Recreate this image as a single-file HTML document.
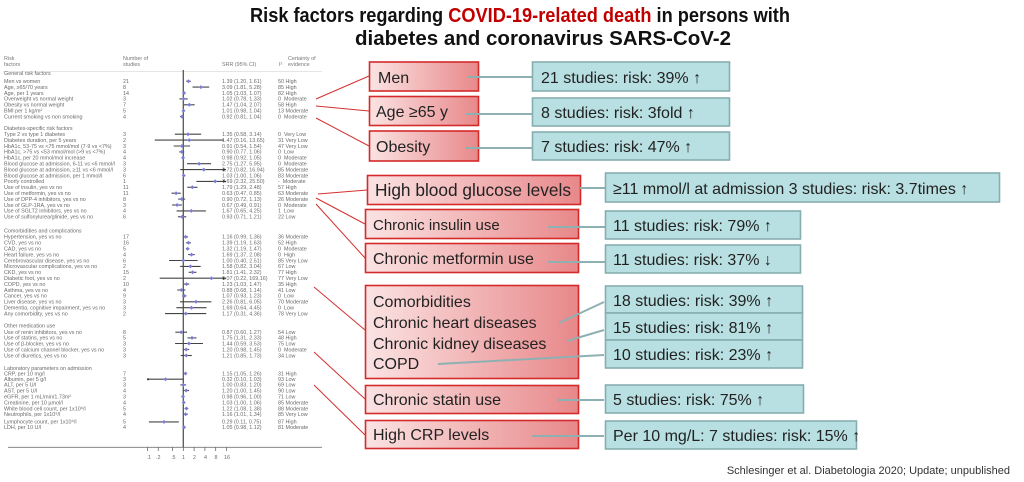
<!DOCTYPE html>
<html><head><meta charset="utf-8"><style>
html,body{margin:0;padding:0;background:#fff;}
svg{display:block;font-family:"Liberation Sans",sans-serif;}
.f{font-size:5.4px;fill:#6a6a6a;}
.h{font-size:5.4px;fill:#777;}
.rb{fill:url(#rg);stroke:#d42a2a;stroke-width:1.6;}
.tb{fill:#b8dfe1;stroke:#86aeb1;stroke-width:1.6;}
.rt{font-size:16px;fill:#222;}
.tt{font-size:16px;fill:#222;}
.gl{stroke:#8fb0b2;stroke-width:2;}
.rl{stroke:#d43030;stroke-width:1;}
</style></head><body>
<svg id="s" width="1024" height="482" viewBox="0 0 1024 482" xmlns="http://www.w3.org/2000/svg">
<defs><linearGradient id="rg" x1="0" x2="1" y1="0" y2="0"><stop offset="0" stop-color="#fbe3e3"/><stop offset="1" stop-color="#e8888a"/></linearGradient></defs>
<text x="250" y="22" font-size="20" font-weight="bold" fill="#111" textLength="540" lengthAdjust="spacingAndGlyphs">Risk factors regarding <tspan fill="#c00000">COVID-19-related death</tspan> in persons with</text>
<text x="355" y="45" font-size="20" font-weight="bold" fill="#111" textLength="376" lengthAdjust="spacingAndGlyphs">diabetes and coronavirus SARS-CoV-2</text>

<text class="h" x="4" y="60">Risk</text><text class="h" x="4" y="66">factors</text>
<text class="h" x="123" y="60">Number of</text><text class="h" x="123" y="66">studies</text>
<text class="h" x="222" y="66">SRR (95% CI)</text><text class="h" x="279" y="66">I²</text>
<text class="h" x="288" y="60">Certainty of</text><text class="h" x="288" y="66">evidence</text>
<line x1="3" y1="71.5" x2="322" y2="71.5" stroke="#ccc" stroke-width="0.6"/>
<line x1="8" y1="447.3" x2="322" y2="447.3" stroke="#777" stroke-width="0.8"/>
<line x1="183.3" y1="70" x2="183.3" y2="447.3" stroke="#555" stroke-width="1.3"/>
<g id="fp"></g>
<g class="f" id="tx">
<text x="4" y="75">General risk factors</text>
<text x="4" y="83">Men vs women</text><text x="4" y="88.9">Age, ≥65/70 years</text><text x="4" y="94.8">Age, per 1 years</text><text x="4" y="100.7">Overweight vs normal weight</text><text x="4" y="106.6">Obesity vs normal weight</text><text x="4" y="112.5">BMI per 1 kg/m²</text><text x="4" y="118.4">Current smoking vs non smoking</text>
<text x="4" y="130">Diabetes-specific risk factors</text>
<text x="4" y="136">Type 2 vs type 1 diabetes</text><text x="4" y="141.9">Diabetes duration, per 5 years</text><text x="4" y="147.8">HbA1c, 53-75 vs &lt;75 mmol/mol (7-9 vs &lt;7%)</text><text x="4" y="153.7">HbA1c, &gt;75 vs &lt;53 mmol/mol (&gt;9 vs &lt;7%)</text><text x="4" y="159.6">HbA1c, per 20 mmol/mol increase</text><text x="4" y="165.5">Blood glucose at admission, 6-11 vs &lt;6 mmol/l</text><text x="4" y="171.4">Blood glucose at admission, ≥11 vs &lt;6 mmol/l</text><text x="4" y="177.3">Blood glucose at admission, per 1 mmol/l</text><text x="4" y="183.2">Poorly controlled</text><text x="4" y="189.1">Use of insulin, yes vs no</text><text x="4" y="195">Use of metformin, yes vs no</text><text x="4" y="200.9">Use of DPP-4 inhibitors, yes vs no</text><text x="4" y="206.8">Use of GLP-1RA, yes vs no</text><text x="4" y="212.7">Use of SGLT2 inhibitors, yes vs no</text><text x="4" y="218.6">Use of sulfonylurea/glinide, yes vs no</text>
<text x="4" y="232.7">Comorbidities and complications</text>
<text x="4" y="238.7">Hypertension, yes vs no</text><text x="4" y="244.6">CVD, yes vs no</text><text x="4" y="250.5">CAD, yes vs no</text><text x="4" y="256.4">Heart failure, yes vs no</text><text x="4" y="262.3">Cerebrovascular disease, yes vs no</text><text x="4" y="268.2">Microvascular complications, yes vs no</text><text x="4" y="274.1">CKD, yes vs no</text><text x="4" y="280">Diabetic foot, yes vs no</text><text x="4" y="285.9">COPD, yes vs no</text><text x="4" y="291.8">Asthma, yes vs no</text><text x="4" y="297.7">Cancer, yes vs no</text><text x="4" y="303.6">Liver disease, yes vs no</text><text x="4" y="309.5">Dementia, cognitive impairment, yes vs no</text><text x="4" y="315.4">Any comorbidity, yes vs no</text>
<text x="4" y="327.7">Other medication use</text>
<text x="4" y="334">Use of renin inhibitors, yes vs no</text><text x="4" y="339.7">Use of statins, yes vs no</text><text x="4" y="345.3">Use of β-blocker, yes vs no</text><text x="4" y="351.3">Use of calcium channel blocker, yes vs no</text><text x="4" y="357.3">Use of diuretics, yes vs no</text>
<text x="4" y="370">Laboratory parameters on admission</text>
<text x="4" y="375.3">CRP, per 10 mg/l</text><text x="4" y="381">Albumin, per 5 g/l</text><text x="4" y="386.7">ALT, per 5 U/l</text><text x="4" y="392.3">AST, per 5 U/l</text><text x="4" y="398.3">eGFR, per 1 mL/min/1.73m²</text><text x="4" y="404.3">Creatinine, per 10 µmol/l</text><text x="4" y="410.3">White blood cell count, per 1x10⁹/l</text><text x="4" y="416">Neutrophils, per 1x10⁹/l</text><text x="4" y="423.7">Lymphocyte count, per 1x10⁹/l</text><text x="4" y="429">LDH, per 10 U/l</text>
</g>
<g class="f">
<text x="146.5" y="459">.1</text><text x="156" y="459">.2</text><text x="171" y="459">.5</text><text x="182" y="459">1</text><text x="193" y="459">2</text><text x="204" y="459">4</text><text x="214.5" y="459">8</text><text x="224" y="459">16</text>
</g>

<line class="rl" x1="316" y1="99" x2="369" y2="76"/>
<line class="rl" x1="316" y1="106" x2="369" y2="111"/>
<line class="rl" x1="316" y1="118" x2="369" y2="146"/>
<line class="rl" x1="318" y1="194" x2="367" y2="190"/>
<line class="rl" x1="316" y1="198" x2="365" y2="224"/>
<line class="rl" x1="316" y1="204" x2="365" y2="258"/>
<line class="rl" x1="314" y1="287" x2="365" y2="330"/>
<line class="rl" x1="314" y1="352" x2="365" y2="399"/>
<line class="rl" x1="314" y1="385" x2="365" y2="435"/>

<rect class="rb" x="369.5" y="62" width="109" height="29"/><text class="rt" x="378" y="83">Men</text>
<rect class="rb" x="369.5" y="96.5" width="109" height="29"/><text class="rt" x="376" y="117">Age ≥65 y</text>
<rect class="rb" x="369.5" y="131" width="109" height="30"/><text class="rt" x="376" y="152">Obesity</text>
<rect class="rb" x="367.5" y="175.5" width="213" height="29"/><text class="rt" x="375" y="196" style="font-size:17.3px">High blood glucose levels</text>
<rect class="rb" x="365.5" y="209.5" width="213" height="29"/><text class="rt" x="373" y="230" style="font-size:15px">Chronic insulin use</text>
<rect class="rb" x="365.5" y="243.5" width="213" height="29"/><text class="rt" x="373" y="264">Chronic metformin use</text>
<rect class="rb" x="365.5" y="285.5" width="213" height="93"/>
<text class="rt" x="373" y="307">Comorbidities</text><text class="rt" x="373" y="328">Chronic heart diseases</text><text class="rt" x="373" y="349">Chronic kidney diseases</text><text class="rt" x="373" y="369">COPD</text>
<rect class="rb" x="365.5" y="385.5" width="213" height="28"/><text class="rt" x="373" y="405">Chronic statin use</text>
<rect class="rb" x="365.5" y="420.5" width="213" height="28"/><text class="rt" x="373" y="440">High CRP levels</text>

<line class="gl" x1="468" y1="77" x2="532" y2="77"/>
<line class="gl" x1="466" y1="114" x2="532" y2="114"/>
<line class="gl" x1="465" y1="148" x2="532" y2="148"/>
<line class="gl" x1="580" y1="188" x2="605" y2="188"/>
<line class="gl" x1="548" y1="227" x2="605" y2="227"/>
<line class="gl" x1="548" y1="262" x2="605" y2="262"/>
<line class="gl" x1="559" y1="323" x2="604" y2="302"/>
<line class="gl" x1="567" y1="341" x2="604" y2="330"/>
<line class="gl" x1="438" y1="364" x2="604" y2="355"/>
<line class="gl" x1="557" y1="400" x2="604" y2="400"/>
<line class="gl" x1="532" y1="436" x2="604" y2="436"/>

<rect class="tb" x="532.5" y="62" width="197" height="29"/><text class="tt" x="541" y="83">21 studies: risk: 39% ↑</text>
<rect class="tb" x="532.5" y="98" width="197" height="28"/><text class="tt" x="541" y="118">8 studies: risk: 3fold ↑</text>
<rect class="tb" x="532.5" y="132" width="197" height="28"/><text class="tt" x="541" y="152">7 studies: risk: 47% ↑</text>
<rect class="tb" x="605.5" y="173" width="394" height="29"/><text class="tt" x="613" y="194">≥11 mmol/l at admission 3 studies: risk: 3.7times ↑</text>
<rect class="tb" x="605.5" y="211" width="195" height="28"/><text class="tt" x="613" y="231">11 studies: risk: 79% ↑</text>
<rect class="tb" x="605.5" y="245" width="195" height="28"/><text class="tt" x="613" y="265">11 studies: risk: 37% ↓</text>
<rect class="tb" x="605.5" y="286" width="197" height="27"/><text class="tt" x="613" y="306">18 studies: risk: 39% ↑</text>
<rect class="tb" x="605.5" y="313" width="197" height="27"/><text class="tt" x="613" y="333">15 studies: risk: 81% ↑</text>
<rect class="tb" x="605.5" y="340" width="197" height="28"/><text class="tt" x="613" y="360">10 studies: risk: 23% ↑</text>
<rect class="tb" x="605.5" y="385" width="198" height="28"/><text class="tt" x="613" y="405">5 studies: risk: 75% ↑</text>
<rect class="tb" x="605.5" y="421" width="251" height="28"/><text class="tt" x="613" y="441">Per 10 mg/L: 7 studies: risk: 15% ↑</text>

<text x="1010" y="474" font-size="11" fill="#333" text-anchor="end">Schlesinger et al. Diabetologia 2020; Update; unpublished</text>

<g class="f">
<text x="123" y="83">21</text><text x="123" y="88.9">8</text><text x="123" y="94.8">14</text><text x="123" y="100.7">3</text><text x="123" y="106.6">7</text><text x="123" y="112.5">5</text><text x="123" y="118.4">4</text>
<text x="123" y="136">3</text><text x="123" y="141.9">2</text><text x="123" y="147.8">3</text><text x="123" y="153.7">4</text><text x="123" y="159.6">4</text><text x="123" y="165.5">3</text><text x="123" y="171.4">3</text><text x="123" y="177.3">6</text><text x="123" y="183.2">1</text><text x="123" y="189.1">11</text><text x="123" y="195">11</text><text x="123" y="200.9">8</text><text x="123" y="206.8">3</text><text x="123" y="212.7">4</text><text x="123" y="218.6">6</text>
<text x="123" y="238.7">17</text><text x="123" y="244.6">16</text><text x="123" y="250.5">5</text><text x="123" y="256.4">4</text><text x="123" y="262.3">6</text><text x="123" y="268.2">2</text><text x="123" y="274.1">15</text><text x="123" y="280">2</text><text x="123" y="285.9">10</text><text x="123" y="291.8">4</text><text x="123" y="297.7">9</text><text x="123" y="303.6">3</text><text x="123" y="309.5">3</text><text x="123" y="315.4">2</text>
<text x="123" y="334">8</text><text x="123" y="339.7">5</text><text x="123" y="345.3">3</text><text x="123" y="351.3">3</text><text x="123" y="357.3">3</text>
<text x="123" y="375.3">7</text><text x="123" y="381">3</text><text x="123" y="386.7">3</text><text x="123" y="392.3">4</text><text x="123" y="398.3">3</text><text x="123" y="404.3">4</text><text x="123" y="410.3">5</text><text x="123" y="416">4</text><text x="123" y="423.7">5</text><text x="123" y="429">4</text>

<text x="222" y="83">1.39 (1.20, 1.61)</text><text x="278" y="83">50 High</text>
<text x="222" y="88.9">3.09 (1.81, 5.28)</text><text x="278" y="88.9">85 High</text>
<text x="222" y="94.8">1.05 (1.03, 1.07)</text><text x="278" y="94.8">82 High</text>
<text x="222" y="100.7">1.02 (0.78, 1.33)</text><text x="278" y="100.7">0 &#160;Moderate</text>
<text x="222" y="106.6">1.47 (1.04, 2.07)</text><text x="278" y="106.6">58 High</text>
<text x="222" y="112.5">1.01 (0.98, 1.04)</text><text x="278" y="112.5">13 Moderate</text>
<text x="222" y="118.4">0.92 (0.81, 1.04)</text><text x="278" y="118.4">0 &#160;Moderate</text>
<text x="222" y="136">1.35 (0.58, 3.14)</text><text x="278" y="136">0 &#160;Very Low</text>
<text x="222" y="141.9">1.47 (0.16, 13.65)</text><text x="278" y="141.9">31 Very Low</text>
<text x="222" y="147.8">0.91 (0.54, 1.54)</text><text x="278" y="147.8">47 Very Low</text>
<text x="222" y="153.7">0.90 (0.77, 1.06)</text><text x="278" y="153.7">0 &#160;Low</text>
<text x="222" y="159.6">0.98 (0.92, 1.05)</text><text x="278" y="159.6">0 &#160;Moderate</text>
<text x="222" y="165.5">2.75 (1.27, 5.95)</text><text x="278" y="165.5">0 &#160;Moderate</text>
<text x="222" y="171.4">3.72 (0.82, 16.94)</text><text x="278" y="171.4">85 Moderate</text>
<text x="222" y="177.3">1.03 (1.00, 1.06)</text><text x="278" y="177.3">83 Moderate</text>
<text x="222" y="183.2">7.69 (2.32, 25.50)</text><text x="278" y="183.2">- &#160;Moderate</text>
<text x="222" y="189.1">1.79 (1.29, 2.48)</text><text x="278" y="189.1">57 High</text>
<text x="222" y="195">0.63 (0.47, 0.85)</text><text x="278" y="195">63 Moderate</text>
<text x="222" y="200.9">0.90 (0.72, 1.13)</text><text x="278" y="200.9">26 Moderate</text>
<text x="222" y="206.8">0.67 (0.49, 0.91)</text><text x="278" y="206.8">0 &#160;Moderate</text>
<text x="222" y="212.7">1.67 (0.65, 4.25)</text><text x="278" y="212.7">1 &#160;Low</text>
<text x="222" y="218.6">0.93 (0.71, 1.21)</text><text x="278" y="218.6">22 Low</text>
<text x="222" y="238.7">1.16 (0.99, 1.36)</text><text x="278" y="238.7">36 Moderate</text>
<text x="222" y="244.6">1.39 (1.19, 1.63)</text><text x="278" y="244.6">52 High</text>
<text x="222" y="250.5">1.32 (1.19, 1.47)</text><text x="278" y="250.5">0 &#160;Moderate</text>
<text x="222" y="256.4">1.69 (1.37, 2.08)</text><text x="278" y="256.4">0 &#160;High</text>
<text x="222" y="262.3">1.00 (0.40, 2.51)</text><text x="278" y="262.3">85 Very Low</text>
<text x="222" y="268.2">1.58 (0.82, 3.04)</text><text x="278" y="268.2">67 Low</text>
<text x="222" y="274.1">1.81 (1.41, 2.32)</text><text x="278" y="274.1">77 High</text>
<text x="222" y="280">6.07 (0.22, 169.16)</text><text x="278" y="280">77 Very Low</text>
<text x="222" y="285.9">1.23 (1.03, 1.47)</text><text x="278" y="285.9">35 High</text>
<text x="222" y="291.8">0.88 (0.68, 1.14)</text><text x="278" y="291.8">41 Low</text>
<text x="222" y="297.7">1.07 (0.93, 1.23)</text><text x="278" y="297.7">0 &#160;Low</text>
<text x="222" y="303.6">2.26 (0.81, 6.05)</text><text x="278" y="303.6">70 Moderate</text>
<text x="222" y="309.5">1.69 (0.64, 4.45)</text><text x="278" y="309.5">0 &#160;Low</text>
<text x="222" y="315.4">1.17 (0.31, 4.36)</text><text x="278" y="315.4">78 Very Low</text>
<text x="222" y="334">0.87 (0.60, 1.27)</text><text x="278" y="334">54 Low</text>
<text x="222" y="339.7">1.75 (1.31, 2.33)</text><text x="278" y="339.7">48 High</text>
<text x="222" y="345.3">1.44 (0.59, 3.53)</text><text x="278" y="345.3">75 Low</text>
<text x="222" y="351.3">1.20 (0.98, 1.45)</text><text x="278" y="351.3">0 &#160;Moderate</text>
<text x="222" y="357.3">1.21 (0.85, 1.73)</text><text x="278" y="357.3">34 Low</text>
<text x="222" y="375.3">1.15 (1.05, 1.26)</text><text x="278" y="375.3">31 High</text>
<text x="222" y="381">0.32 (0.10, 1.03)</text><text x="278" y="381">93 Low</text>
<text x="222" y="386.7">1.00 (0.83, 1.20)</text><text x="278" y="386.7">69 Low</text>
<text x="222" y="392.3">1.20 (1.00, 1.45)</text><text x="278" y="392.3">90 Low</text>
<text x="222" y="398.3">0.98 (0.96, 1.00)</text><text x="278" y="398.3">71 Low</text>
<text x="222" y="404.3">1.03 (1.00, 1.06)</text><text x="278" y="404.3">85 Moderate</text>
<text x="222" y="410.3">1.22 (1.08, 1.38)</text><text x="278" y="410.3">88 Moderate</text>
<text x="222" y="416">1.16 (1.01, 1.34)</text><text x="278" y="416">85 Very Low</text>
<text x="222" y="423.7">0.29 (0.11, 0.75)</text><text x="278" y="423.7">87 High</text>
<text x="222" y="429">1.05 (0.98, 1.12)</text><text x="278" y="429">81 Moderate</text>
</g>
</svg>
<script>
var D=[[83,1.39,1.2,1.61],[88.9,3.09,1.81,5.28],[94.8,1.05,1.03,1.07],[100.7,1.02,.78,1.33],[106.6,1.47,1.04,2.07],[112.5,1.01,.98,1.04],[118.4,.92,.81,1.04],
[136,1.35,.58,3.14],[141.9,1.47,.16,13.65],[147.8,.91,.54,1.54],[153.7,.9,.77,1.06],[159.6,.98,.92,1.05],[165.5,2.75,1.27,5.95],[171.4,3.72,.82,16.94],[177.3,1.03,1,1.06],[183.2,7.69,2.32,25.5],[189.1,1.79,1.29,2.48],[195,.63,.47,.85],[200.9,.9,.72,1.13],[206.8,.67,.49,.91],[212.7,1.67,.65,4.25],[218.6,.93,.71,1.21],
[238.7,1.16,.99,1.36],[244.6,1.39,1.19,1.63],[250.5,1.32,1.19,1.47],[256.4,1.69,1.37,2.08],[262.3,1,.4,2.51],[268.2,1.58,.82,3.04],[274.1,1.81,1.41,2.32],[280,6.07,.22,169],[285.9,1.23,1.03,1.47],[291.8,.88,.68,1.14],[297.7,1.07,.93,1.23],[303.6,2.26,.81,6.05],[309.5,1.69,.64,4.45],[315.4,1.17,.31,4.36],
[334,.87,.6,1.27],[339.7,1.75,1.31,2.33],[345.3,1.44,.59,3.53],[351.3,1.2,.98,1.45],[357.3,1.21,.85,1.73],
[375.3,1.15,1.05,1.26],[381,.32,.1,1.03],[386.7,1,.83,1.2],[392.3,1.2,1,1.45],[398.3,.98,.96,1],[404.3,1.03,1,1.06],[410.3,1.22,1.08,1.38],[416,1.16,1.01,1.34],[423.7,.29,.11,.75],[429,1.05,.98,1.12]];
var ns="http://www.w3.org/2000/svg",g=document.getElementById('fp');
function X(v){return 183.3+Math.log2(v)*10.8;}
function el(t,a){var e=document.createElementNS(ns,t);for(var k in a)e.setAttribute(k,a[k]);g.appendChild(e);return e;}
D.forEach(function(d){var y=d[0]-1.8,x1=Math.max(X(d[2]),148),x2=Math.min(X(d[3]),226),xm=X(d[1]);
el('line',{x1:x1,y1:y,x2:x2,y2:y,stroke:'#444','stroke-width':1.1});
if(X(d[3])>226)el('path',{d:'M226 '+y+'l-3 -1.5v3z',fill:'#222'});
if(X(d[2])<148)el('circle',{cx:148,cy:y,r:1,fill:'#222'});
el('path',{d:'M'+xm+' '+(y-2)+'l2 2l-2 2l-2 -2z',fill:'#7b7bd8'});});
[.1,.2,.5,1,2,4,8,16].forEach(function(v){el('line',{x1:X(v),y1:447.3,x2:X(v),y2:451,stroke:'#555','stroke-width':.7});});
</script>
</body></html>
